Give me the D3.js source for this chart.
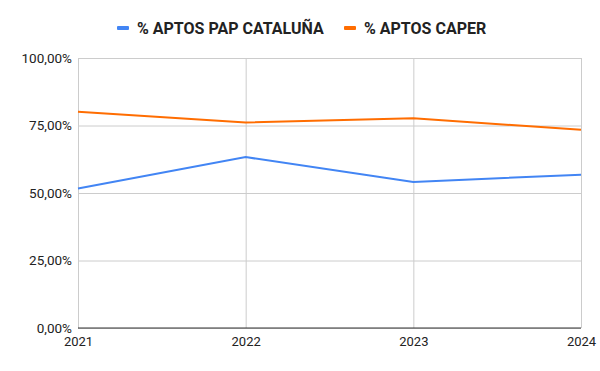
<!DOCTYPE html>
<html>
<head>
<meta charset="utf-8">
<script src="https://cdn.jsdelivr.net/npm/d3@7"></script>
<style>
  body { margin: 0; background: #fff; }
  text { font-family: Roboto, sans-serif; }
</style>
</head>
<body>
<svg id="chart"></svg>
<script>
const years = ["2021", "2022", "2023", "2024"];
const seriesNames = ["% APTOS PAP CATALUÑA", "% APTOS CAPER"];
const pap = [51.7, 63.3, 54.1, 56.8];
const caper = [80.1, 76.1, 77.7, 73.4];
const yTicks = [0, 25, 50, 75, 100];
const colors = ["#4285f4", "#ff6d01"];

const wSvg = 600;
const hSvg = 371;
const margin = { top: 58, right: 19, bottom: 43, left: 78 };

const svg = d3.select("#chart")
  .attr("width", wSvg)
  .attr("height", hSvg);

const x = d3.scalePoint()
  .domain(years)
  .range([margin.left, wSvg - margin.right]);

const y = d3.scaleLinear()
  .domain([0, 100])
  .range([hSvg - margin.bottom, margin.top]);

const locale = d3.formatLocale({ decimal: ",", thousands: ".", grouping: [3], currency: ["", "€"] });
const fmt = v => locale.format(".2f")(v) + "%";

// rejilla horizontal + etiquetas eje y
const yAxis = svg.append("g")
  .attr("transform", `translate(${margin.left}, 0)`)
  .call(d3.axisLeft(y).tickValues(yTicks).tickFormat(fmt)
    .tickSize(-(wSvg - margin.left - margin.right)).tickPadding(6));
yAxis.select(".domain").remove();
yAxis.selectAll("line").attr("stroke", "#cccccc");
yAxis.selectAll("text").attr("font-size", 13.5).attr("fill", "#222");

// rejilla vertical + etiquetas eje x
const xAxis = svg.append("g")
  .attr("transform", `translate(0, ${hSvg - margin.bottom})`)
  .call(d3.axisBottom(x).tickSize(-(hSvg - margin.top - margin.bottom)).tickPadding(9));
xAxis.select(".domain").remove();
xAxis.selectAll("line").attr("stroke", "#cccccc");
xAxis.selectAll("text").attr("font-size", 13).attr("fill", "#222");

// linea base
svg.append("line")
  .attr("x1", margin.left)
  .attr("x2", wSvg - margin.right)
  .attr("y1", y(0))
  .attr("y2", y(0))
  .attr("stroke", "#333");

const line = d3.line()
  .x((d, i) => x(years[i]))
  .y(d => y(d));

[pap, caper].forEach((s, i) => {
  svg.append("path")
    .datum(s)
    .attr("fill", "none")
    .attr("stroke", colors[i])
    .attr("stroke-width", 2)
    .attr("d", line);
});

// leyenda
const legend = svg.append("g").attr("transform", "translate(0, 28)");
const legendX = [117, 344];
seriesNames.forEach((name, i) => {
  legend.append("rect")
    .attr("x", legendX[i])
    .attr("y", -2)
    .attr("width", 12)
    .attr("height", 4)
    .attr("rx", 1)
    .attr("fill", colors[i]);
  legend.append("text")
    .attr("x", legendX[i] + 20)
    .attr("y", 5.5)
    .attr("font-size", 16)
    .attr("font-weight", "bold")
    .attr("fill", "#222")
    .text(name);
});
</script>
</body>
</html>
